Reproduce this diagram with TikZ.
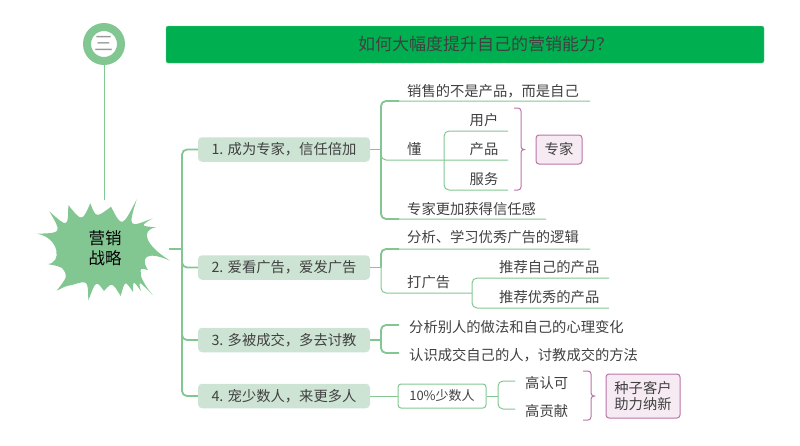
\documentclass[tikz,border=0pt]{standalone}
\usepackage{fontspec}
\setmainfont{Noto Sans CJK SC}
\definecolor{leafgreen}{HTML}{82C791}
\definecolor{headgreen}{HTML}{00B050}
\definecolor{palegreen}{HTML}{CDE4D4}
\definecolor{plum}{HTML}{BA74A8}
\definecolor{paleplum}{HTML}{F6EBF3}
\definecolor{inkgray}{HTML}{404040}
\tikzset{
  thickline/.style={draw=leafgreen,line width=1.8pt,rounded corners=5pt},
  thinline/.style={draw=leafgreen,line width=1pt,rounded corners=5pt},
  branch/.style={fill=palegreen,rounded corners=4pt,minimum width=172pt,minimum height=24.5pt,inner sep=0pt,text=inkgray,font=\fontsize{14.3}{16}\selectfont},
  leaf/.style={inner sep=0pt,text=inkgray,font=\fontsize{14.3}{16}\selectfont},
  tagbox/.style={draw=plum,fill=paleplum,line width=1pt,rounded corners=3pt,inner sep=0pt,text=inkgray,align=center,font=\fontsize{14.3}{16}\selectfont},
  bracedraw/.style={draw=plum,line width=1pt,rounded corners=3pt}
}
\begin{document}
\begin{tikzpicture}[x=1pt,y=-1pt]
\useasboundingbox (0,0) rectangle (800,445);
% the title bar and the number ring
\node[fill=headgreen,draw=leafgreen,rounded corners=2pt,minimum width=598pt,minimum height=37pt,inner sep=0pt,text=inkgray,font=\fontsize{17}{18}\selectfont] (title) at (465,44.5) {\hspace{41pt}如何大幅度提升自己的营销能力？};
\node[circle,draw=leafgreen,line width=8pt,fill=white,minimum size=34pt,inner sep=0pt,text=gray!80,font=\fontsize{19}{20}\selectfont] (ring) at (104,44) {三};
% the spiky centre
\fill[leafgreen] (37.3,233.7) .. controls (62,233) .. (49.3,211.3)
  .. controls (68,228) .. (68.3,205)
  .. controls (82,222) .. (90.3,203.3)
  .. controls (96,218) .. (111,206.7)
  .. controls (122,228) .. (136.7,199.3)
  .. controls (128,228) .. (152.7,218.3)
  .. controls (140,226) .. (156,227.3)
  .. controls (140,230) and (145,245) .. (170,260.7)
  .. controls (146,250) and (140,258) .. (148,270)
  .. controls (140,268) .. (141,274)
  .. controls (140,276) and (145,286) .. (152.7,295)
  .. controls (138,280) .. (141,291)
  .. controls (133,280) .. (133,292)
  .. controls (125,280) .. (120.7,296)
  .. controls (112,282) .. (104,291)
  .. controls (96,280) .. (88.3,300.7)
  .. controls (88,280) .. (72,285)
  .. controls (66,286) .. (56.7,290.7)
  .. controls (68,276) .. (62,268)
  .. controls (58,266) .. (47.3,264)
  .. controls (62,264) and (60,238) .. cycle;
\node[font=\fontsize{16.5}{20}\selectfont,align=center,inner sep=0pt] (core) at (105,248) {营销\\战略};
\coordinate (hub) at (169,249);
\coordinate (trunk) at (182,249);
\draw[draw=leafgreen,line width=1pt] (ring) ++(0,21) -- (104,200);
% the four branches
\node[branch] (b1) at (284,149.5) {1. 成为专家，信任倍加};
\node[branch] (b2) at (284,267.5) {2. 爱看广告，爱发广告};
\node[branch] (b3) at (284,340) {3. 多被成交，多去讨教};
\node[branch] (b4) at (284,396) {4. 宠少数人，来更多人};
\draw[thickline] (hub) -- (trunk);
\foreach \n in {b1,b2,b3,b4}
  \draw[thickline] (trunk) |- (\n.west);
% first branch
\node[leaf,anchor=base west] (sell) at (407,96) {销售的不是产品，而是自己};
\node[leaf,anchor=base west] (dong) at (407,154) {懂};
\node[leaf,anchor=base west] (more) at (407,214) {专家更加获得信任感};
\coordinate (bus1) at (381,149.5);
\coordinate (sellend) at (590,101);
\coordinate (dongend) at (508,160);
\coordinate (moreend) at (546,219);
\draw[thickline] (b1.east) -- (bus1);
\draw[thinline] (bus1) |- (sellend);
\draw[thinline] (bus1) |- (moreend);
\draw[thickline] (bus1) |- (399,101);
\draw[thickline] (bus1) |- (399,219);
\draw[thinline] (bus1) |- (dongend);
\node[leaf] (user) at (484,120) {用户};
\node[leaf] (prod) at (484,149) {产品};
\node[leaf] (serv) at (484,179) {服务};
\coordinate (bus2) at (444,160);
\coordinate (userend) at (508,131);
\coordinate (servend) at (508,190);
\draw[thinline] (bus2) |- (userend);
\draw[thinline] (bus2) |- (servend);
\node[tagbox,minimum width=46pt,minimum height=29pt] (expert) at (559,149.5) {专家};
\draw[bracedraw] (514,108) -| (521,149.5) -- (527,149.5) -- (521,149.5) |- (514,190);
% second branch
\node[leaf,anchor=base west] (learn) at (407,242) {分析、学习优秀广告的逻辑};
\node[leaf,anchor=base west] (ads) at (407,287) {打广告};
\coordinate (bus3) at (381,267.5);
\coordinate (learnend) at (590,249);
\coordinate (adsend) at (472,293);
\draw[thickline] (b2.east) -- (bus3);
\draw[thinline] (bus3) |- (learnend);
\draw[thickline] (bus3) |- (399,249);
\draw[thinline] (bus3) |- (adsend);
\node[leaf,anchor=base west] (own) at (499,272) {推荐自己的产品};
\node[leaf,anchor=base west] (good) at (499,302) {推荐优秀的产品};
\coordinate (ownend) at (609,278);
\coordinate (goodend) at (609,308);
\draw[thinline] (adsend) |- (ownend);
\draw[thinline] (adsend) |- (goodend);
% third branch
\node[leaf,anchor=base west] (watch) at (409,332) {分析别人的做法和自己的心理变化};
\node[leaf,anchor=base west] (ask) at (409,360) {认识成交自己的人，讨教成交的方法};
\coordinate (bus4) at (381,340);
\coordinate (watchend) at (399,325);
\coordinate (askend) at (399,353);
\draw[thickline] (b3.east) -- (bus4);
\draw[thickline] (bus4) |- (watchend);
\draw[thickline] (bus4) |- (askend);
% fourth branch
\node[draw=leafgreen,line width=1pt,rounded corners=3pt,minimum width=88pt,minimum height=24pt,inner sep=0pt,text=inkgray,font=\fontsize{13}{15}\selectfont] (few) at (442,396) {10\%少数人};
\draw[thinline] (b4.east) -- (few.west);
\node[leaf,anchor=base west] (high1) at (525,388) {高认可};
\node[leaf,anchor=base west] (high2) at (525,416) {高贡献};
\coordinate (bus5) at (498,396);
\coordinate (high1end) at (515,381);
\coordinate (high2end) at (515,409);
\draw[thinline] (few.east) -- (bus5);
\draw[thinline] (bus5) |- (high1end);
\draw[thinline] (bus5) |- (high2end);
\node[tagbox,minimum width=74pt,minimum height=44pt] (seed) at (643,396) {种子客户\\助力纳新};
\draw[bracedraw] (583,371) -| (591,396) -- (597,396) -- (591,396) |- (583,420);
\end{tikzpicture}
\end{document}
